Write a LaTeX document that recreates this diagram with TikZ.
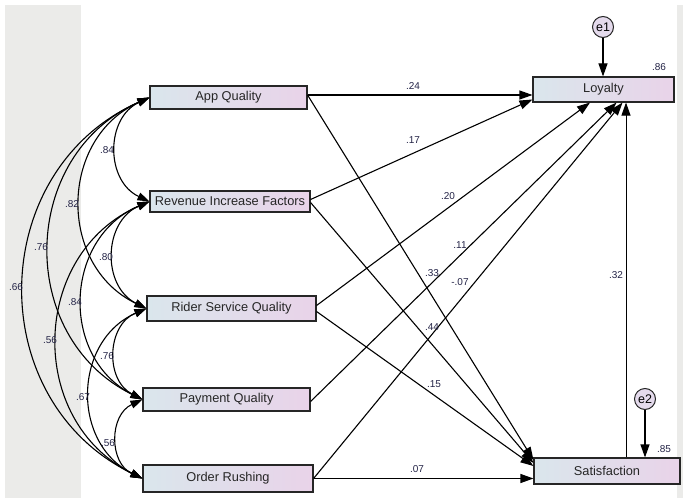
\documentclass[tikz,border=0pt]{standalone}
\usepackage{fontspec}
\setmainfont{Liberation Sans}
\usetikzlibrary{arrows.meta}

\definecolor{boxleft}{RGB}{218,230,236}
\definecolor{boxright}{RGB}{233,211,233}
\definecolor{errfill}{RGB}{228,218,236}
\definecolor{bandgray}{RGB}{235,235,233}
\definecolor{coefblue}{RGB}{35,35,70}

\tikzset{
  obs/.style={draw=black!85, line width=1.1pt, left color=boxleft, right color=boxright,
    inner sep=0pt, text=black!85, font=\fontsize{12.8}{14}\selectfont},
  err/.style={circle, draw=black!85, line width=1pt, fill=errfill, minimum size=21pt,
    inner sep=0pt, font=\fontsize{12.5}{13}\selectfont},
  effect/.style={line width=1.1pt, -{Triangle[length=13pt,width=9pt]}},
  covar/.style={line width=1.1pt, {Triangle[length=12pt,width=8pt]}-{Triangle[length=12pt,width=8pt]},
    bend right=65, looseness=1.2},
  coef/.style={inner sep=0pt, text=coefblue, font=\fontsize{10}{11}\selectfont},
}

\begin{document}
\begin{tikzpicture}[x=1pt, y=-1pt]
  \useasboundingbox (0,0) rectangle (683,500);

  % ---- background bands ----
  \fill[bandgray] (5,5) rectangle (81,498);
  \fill[bandgray] (677,5) rectangle (683,498);

  % ---- exogenous variables ----
  \node[obs, minimum width=157pt, minimum height=23pt] (app)   at (228.5,97.5)  {App Quality};
  \node[obs, minimum width=160pt, minimum height=21pt] (rev)   at (230,201.5)   {Revenue Increase Factors};
  \node[obs, minimum width=169pt, minimum height=25pt] (rider) at (231.5,308.5) {Rider Service Quality};
  \node[obs, minimum width=167pt, minimum height=23pt] (pay)   at (226.5,399.5) {Payment Quality};
  \node[obs, minimum width=170pt, minimum height=27pt] (order) at (228,478.5)   {Order Rushing};

  % ---- endogenous variables and errors ----
  \node[obs, minimum width=141pt, minimum height=25pt] (loyal) at (603.5,89.5) {Loyalty};
  \node[obs, minimum width=146pt, minimum height=26pt] (satis) at (607,471)    {Satisfaction};
  \node[err] (e1) at (603,27)  {e1};
  \node[err] (e2) at (645,399) {e2};

  % ---- covariances ----
  \foreach \a/\b in {app/rev, app/rider, app/pay, app/order, rev/rider,
                     rev/pay, rev/order, rider/pay, rider/order, pay/order} {
    \draw[covar] (\a.west) to (\b.west);
  }

  % ---- paths to loyalty ----
  \draw[effect] ([yshift=2.5pt]app.east) -- ([yshift=-5.5pt]loyal.west);
  \draw[effect] ([yshift=2pt]rev.east) -- ([yshift=-10pt]loyal.west);
  \draw[effect] ([yshift=3pt]rider.east) -- ([xshift=-13.5pt]loyal.south);
  \draw[effect] ([yshift=-2pt]pay.east) -- ([xshift=13pt]loyal.south);
  \draw[effect] (order.east) -- ([xshift=19pt]loyal.south);
  \draw[effect, line width=0.9pt] ([xshift=19pt]satis.north) -- ([xshift=22.5pt]loyal.south);

  % ---- paths to satisfaction ----
  \draw[effect] ([yshift=2.5pt]app.east) -- ([yshift=11pt]satis.west);
  \draw[effect] ([yshift=-1pt]rev.east) -- ([yshift=8pt]satis.west);
  \draw[effect] ([yshift=-3pt]rider.east) -- ([yshift=5pt]satis.west);
  \draw[effect] (order.east) -- (order.east -| satis.west);

  % ---- error terms ----
  \draw[effect] (e1.south) -- (e1.south |- loyal.north);
  \draw[effect] (e2.south) -- (e2.south |- satis.north);

  % ---- estimates ----
  \node[coef] (c1)  at (107,150) {.84};
  \node[coef] (c2)  at (72,204)  {.82};
  \node[coef] (c3)  at (41,247)  {.76};
  \node[coef] (c4)  at (16,287)  {.66};
  \node[coef] (c5)  at (106,257) {.80};
  \node[coef] (c6)  at (75,302)  {.84};
  \node[coef] (c7)  at (50,340)  {.56};
  \node[coef] (c8)  at (107,356) {.76};
  \node[coef] (c9)  at (83,397)  {.67};
  \node[coef] (c10) at (108,443) {.56};

  \node[coef] (p1)  at (413,86)  {.24};
  \node[coef] (p2)  at (413,140) {.17};
  \node[coef] (p3)  at (448,196) {.20};
  \node[coef] (p4)  at (460,245) {.11};
  \node[coef] (p5)  at (460,282) {-.07};
  \node[coef] (p6)  at (432,273) {.33};
  \node[coef] (p7)  at (432,327) {.44};
  \node[coef] (p8)  at (434,384) {.15};
  \node[coef] (p9)  at (417,469) {.07};
  \node[coef] (p10) at (616,275) {.32};
  \node[coef] (r1)  at (659,67)  {.86};
  \node[coef] (r2)  at (664,449) {.85};

\end{tikzpicture}
\end{document}
